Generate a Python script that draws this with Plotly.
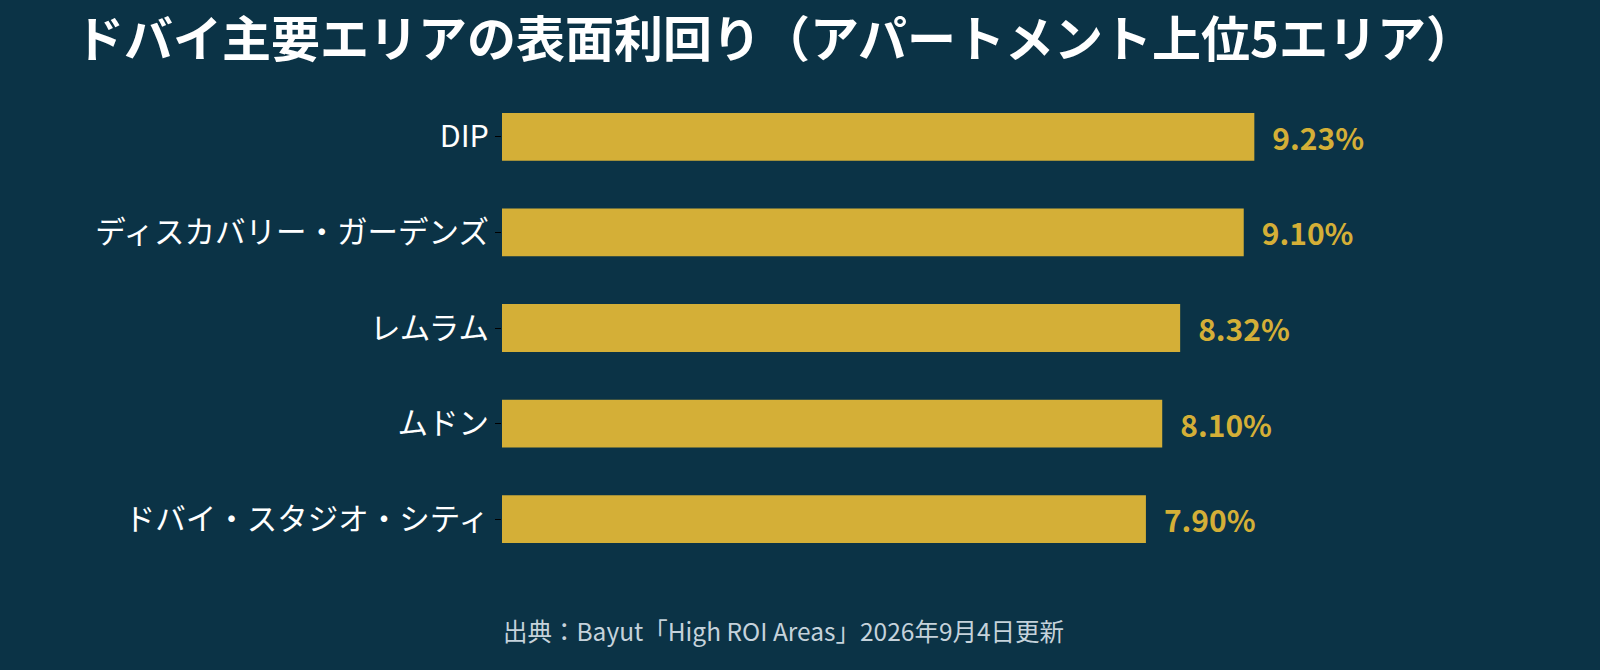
import plotly.graph_objects as go

BG = "#0B3346"
GOLD = "#D4AF37"
FONT = "Noto Sans CJK JP"

areas = ["DIP", "ディスカバリー・ガーデンズ", "レムラム", "ムドン", "ドバイ・スタジオ・シティ"]
yields = [9.23, 9.10, 8.32, 8.10, 7.90]
labels = [f"\u2002{v:.2f}%" for v in yields]

title = "ドバイ主要エリアの表面利回り（アパートメント上位5エリア）"
source = "出典：Bayut「High ROI Areas」2026年9月4日更新"

# plot area in pixels (from the reference)
L, R, T, B = 502, 234, 89, 103
W, H = 1600, 670

fig = go.Figure(go.Bar(
    x=yields,
    y=areas,
    orientation="h",
    width=0.5,
    marker_color=GOLD,
    marker_line_width=0,
    text=labels,
    textposition="outside",
    cliponaxis=False,
    textfont=dict(family=FONT, size=30, color=GOLD, weight="bold"),
))

fig.update_layout(
    width=W,
    height=H,
    paper_bgcolor=BG,
    plot_bgcolor=BG,
    margin=dict(l=L, r=R, t=T, b=B),
    showlegend=False,
    font=dict(family=FONT, color="white"),
    title=dict(
        text=title,
        x=775 / W,
        xanchor="center",
        y=1 - 40 / H,
        yanchor="middle",
        font=dict(family=FONT, size=49, color="white", weight="bold"),
    ),
    annotations=[dict(
        text=source,
        x=(783 - L) / (W - L - R),
        y=(H - 630 - B) / (H - T - B),
        xref="paper",
        yref="paper",
        xanchor="center",
        yanchor="middle",
        showarrow=False,
        font=dict(family=FONT, size=24.5, color="#C5D2DB"),
    )],
)

fig.update_xaxes(range=[0, 10.6], visible=False, showgrid=False, zeroline=False)
fig.update_yaxes(
    autorange="reversed",
    showgrid=False,
    zeroline=False,
    showline=False,
    ticks="outside",
    ticklen=6,
    tickcolor="black",
    tickfont=dict(family=FONT, size=30.5, color="white"),
)

fig.write_html(
    "out.html",
    config={"displayModeBar": False},
    post_script="document.documentElement.style.overflow='hidden';"
                "document.body.style.margin='0';document.body.style.overflow='hidden';",
)
